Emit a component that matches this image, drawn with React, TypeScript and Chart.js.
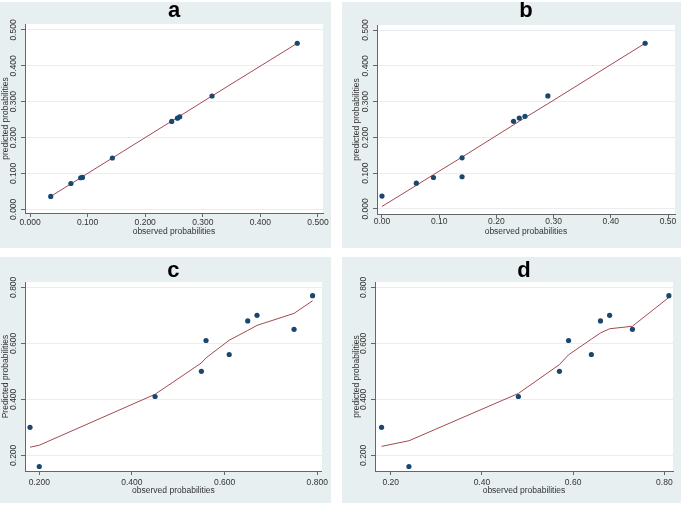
import React, { useEffect, useRef } from "react";
import { Chart, registerables } from "chart.js";

Chart.register(...registerables);

// ---------- data ----------
const aObserved = [0.036, 0.071, 0.088, 0.091, 0.143, 0.246, 0.256, 0.26, 0.316, 0.464];
const aPredicted = [0.036, 0.072, 0.088, 0.089, 0.143, 0.245, 0.254, 0.258, 0.316, 0.463];
const aFitted = [0.036, 0.071, 0.088, 0.091, 0.143, 0.246, 0.256, 0.26, 0.316, 0.463];

const bObserved = [0.0, 0.06, 0.09, 0.14, 0.14, 0.23, 0.24, 0.25, 0.29, 0.46];
const bPredicted = [0.036, 0.072, 0.088, 0.143, 0.09, 0.245, 0.254, 0.259, 0.316, 0.463];
const bFitted = [0.007, 0.066, 0.096, 0.145, 0.145, 0.235, 0.245, 0.255, 0.294, 0.463];

const cObserved = [0.18, 0.2, 0.45, 0.55, 0.56, 0.61, 0.65, 0.67, 0.75, 0.79];
const cPredicted = [0.3, 0.16, 0.41, 0.5, 0.61, 0.56, 0.68, 0.7, 0.65, 0.77];
const cFitted = [0.229, 0.236, 0.418, 0.53, 0.548, 0.611, 0.646, 0.664, 0.707, 0.752];

const dObserved = [0.18, 0.24, 0.48, 0.57, 0.59, 0.64, 0.66, 0.68, 0.73, 0.81];
const dPredicted = [0.3, 0.16, 0.41, 0.5, 0.61, 0.56, 0.68, 0.7, 0.65, 0.77];
const dFitted = [0.232, 0.252, 0.421, 0.524, 0.559, 0.615, 0.637, 0.652, 0.661, 0.764];

// ---------- ticks ----------
const abTickValues = [0, 0.1, 0.2, 0.3, 0.4, 0.5];
const abYTickLabels = ["0.000", "0.100", "0.200", "0.300", "0.400", "0.500"];
const aXTickLabels = ["0.000", "0.100", "0.200", "0.300", "0.400", "0.500"];
const bXTickLabels = ["0.00", "0.10", "0.20", "0.30", "0.40", "0.50"];
const cdTickValues = [0.2, 0.4, 0.6, 0.8];
const cdYTickLabels = ["0.200", "0.400", "0.600", "0.800"];
const cXTickLabels = ["0.200", "0.400", "0.600", "0.800"];
const dXTickLabels = ["0.20", "0.40", "0.60", "0.80"];

const panelTitles = ["a", "b", "c", "d"];
const xAxisTitle = "observed probabilities";
const yAxisTitles = ["predicted probabilities", "predicted probabilities", "Predicted probabilities", "predicted probabilities"];

// ---------- styling ----------
const FONT = "'Liberation Sans', Arial, Helvetica, sans-serif";
const PANEL_BG = "#e8eff1";
const MARKER = "#1a476f";
const LINE = "#a24a50";
const AXIS = "#666666";
const GRID = "#e8eef0";
const TEXT = "#333333";

type PanelCfg = {
  title: string;
  yTitle: string;
  obs: number[];
  pred: number[];
  fit: number[];
  xTicks: number[];
  xLabels: string[];
  yTicks: number[];
  yLabels: string[];
  xMin: number; xMax: number; yMin: number; yMax: number;
  left: number; top: number; width: number; height: number;
  chartLeft: number; chartTop: number; chartRight: number; chartBottom: number;
  titlePadTop: number;
  xLabelPad: number;
  xTitlePad: number;
};

const panels: PanelCfg[] = [
  {
    title: panelTitles[0], yTitle: yAxisTitles[0],
    obs: aObserved, pred: aPredicted, fit: aFitted,
    xTicks: abTickValues, xLabels: aXTickLabels, yTicks: abTickValues, yLabels: abYTickLabels,
    xMin: -0.0087, xMax: 0.5087, yMin: -0.0103, yMax: 0.5167,
    left: -9, top: 2, width: 340, height: 246,
    chartLeft: 34, chartTop: 22, chartRight: 332, chartBottom: 211,
    titlePadTop: 1, xLabelPad: 0.6, xTitlePad: 10.9,
  },
  {
    title: panelTitles[1], yTitle: yAxisTitles[1],
    obs: bObserved, pred: bPredicted, fit: bFitted,
    xTicks: abTickValues, xLabels: bXTickLabels, yTicks: abTickValues, yLabels: abYTickLabels,
    xMin: -0.0087, xMax: 0.5122, yMin: -0.014, yMax: 0.514,
    left: 342, top: 2, width: 339, height: 246,
    chartLeft: 35, chartTop: 23, chartRight: 333, chartBottom: 212,
    titlePadTop: 1, xLabelPad: -1.5, xTitlePad: 10.9,
  },
  {
    title: panelTitles[2], yTitle: yAxisTitles[2],
    obs: cObserved, pred: cPredicted, fit: cFitted,
    xTicks: cdTickValues, xLabels: cXTickLabels, yTicks: cdTickValues, yLabels: cdYTickLabels,
    xMin: 0.1692, xMax: 0.8101, yMin: 0.144, yMax: 0.819,
    left: -9, top: 257, width: 340, height: 246,
    chartLeft: 34, chartTop: 25, chartRight: 332, chartBottom: 214,
    titlePadTop: 6, xLabelPad: 3, xTitlePad: 7.6,
  },
  {
    title: panelTitles[3], yTitle: yAxisTitles[3],
    obs: dObserved, pred: dPredicted, fit: dFitted,
    xTicks: cdTickValues, xLabels: dXTickLabels, yTicks: cdTickValues, yLabels: cdYTickLabels,
    xMin: 0.1656, xMax: 0.819, yMin: 0.144, yMax: 0.819,
    left: 342, top: 257, width: 339, height: 246,
    chartLeft: 33, chartTop: 25, chartRight: 331, chartBottom: 214,
    titlePadTop: 6, xLabelPad: 3, xTitlePad: 7.6,
  },
];

const plotBgPlugin = {
  id: "plotBg",
  beforeDraw(chart: any) {
    const { ctx, chartArea } = chart;
    if (!chartArea) return;
    ctx.save();
    ctx.fillStyle = "#ffffff";
    ctx.fillRect(chartArea.left, chartArea.top, chartArea.right - chartArea.left, chartArea.bottom - chartArea.top);
    ctx.restore();
  },
};

function labelFor(values: number[], labels: string[], v: number): string {
  const i = values.findIndex((t) => Math.abs(t - v) < 1e-9);
  return i >= 0 ? labels[i] : "";
}

function Panel({ cfg }: { cfg: PanelCfg }) {
  const ref = useRef<HTMLCanvasElement | null>(null);
  useEffect(() => {
    if (!ref.current) return;
    const titleLine = 16;
    const chart = new Chart(ref.current, {
      type: "scatter",
      data: {
        datasets: [
          {
            label: "observed",
            data: cfg.obs.map((x, i) => ({ x, y: cfg.pred[i] })),
            backgroundColor: MARKER,
            borderColor: MARKER,
            borderWidth: 0,
            pointRadius: 2.6,
            showLine: false,
          },
          {
            label: "fitted",
            data: cfg.obs.map((x, i) => ({ x, y: cfg.fit[i] })),
            borderColor: LINE,
            backgroundColor: LINE,
            borderWidth: 1,
            pointRadius: 0,
            showLine: true,
            tension: 0,
          },
        ],
      },
      options: {
        responsive: false,
        animation: false,
        devicePixelRatio: 1,
        layout: { padding: { left: 0, top: 0, right: cfg.width - cfg.chartRight, bottom: 0 } },
        plugins: {
          legend: { display: false },
          tooltip: { enabled: false },
          title: {
            display: true,
            text: cfg.title,
            fullSize: false,
            color: "#000000",
            font: { family: FONT, size: 22, weight: "bold", lineHeight: titleLine / 22 },
            padding: { top: cfg.titlePadTop, bottom: cfg.chartTop - titleLine - cfg.titlePadTop },
          },
        },
        scales: {
          x: {
            type: "linear",
            min: cfg.xMin,
            max: cfg.xMax,
            afterBuildTicks: (scale: any) => {
              scale.ticks = cfg.xTicks.map((v) => ({ value: v }));
            },
            afterFit: (scale: any) => {
              scale.height = cfg.height - cfg.chartBottom;
            },
            grid: {
              display: true,
              drawOnChartArea: false,
              drawTicks: true,
              tickLength: 4,
              tickColor: AXIS,
              color: AXIS,
            },
            border: { display: true, color: AXIS, width: 1 },
            ticks: {
              color: TEXT,
              font: { family: FONT, size: 8.5 },
              padding: cfg.xLabelPad,
              maxRotation: 0,
              minRotation: 0,
              autoSkip: false,
              callback: (v: any) => labelFor(cfg.xTicks, cfg.xLabels, Number(v)),
            },
            title: {
              display: true,
              text: xAxisTitle,
              color: TEXT,
              font: { family: FONT, size: 8.5 },
              padding: { top: 0, bottom: cfg.xTitlePad },
            },
          },
          y: {
            type: "linear",
            min: cfg.yMin,
            max: cfg.yMax,
            afterBuildTicks: (scale: any) => {
              scale.ticks = cfg.yTicks.map((v) => ({ value: v }));
            },
            afterFit: (scale: any) => {
              scale.width = cfg.chartLeft;
            },
            grid: {
              display: true,
              drawOnChartArea: true,
              drawTicks: true,
              tickLength: 4,
              tickColor: AXIS,
              color: GRID,
              lineWidth: 1,
            },
            border: { display: true, color: AXIS, width: 1 },
            ticks: {
              color: TEXT,
              font: { family: FONT, size: 8.5 },
              padding: -3.7,
              minRotation: 90,
              maxRotation: 90,
              crossAlign: "center",
              autoSkip: false,
              callback: (v: any) => labelFor(cfg.yTicks, cfg.yLabels, Number(v)),
            },
            title: {
              display: true,
              text: cfg.yTitle,
              color: TEXT,
              font: { family: FONT, size: 8.5 },
              padding: { top: 9.5, bottom: 0 },
            },
          },
        },
      },
      plugins: [plotBgPlugin],
    } as any);
    return () => chart.destroy();
  }, [cfg]);

  return (
    <div
      style={{
        position: "absolute",
        left: cfg.left,
        top: cfg.top,
        width: cfg.width,
        height: cfg.height,
        background: PANEL_BG,
      }}
    >
      <canvas
        ref={ref}
        width={cfg.width}
        height={cfg.height}
        style={{ display: "block", width: cfg.width, height: cfg.height }}
      />
    </div>
  );
}

export default function App() {
  return (
    <div
      style={{
        position: "absolute",
        left: 0,
        top: 0,
        width: 684,
        height: 507,
        overflow: "hidden",
        background: "#ffffff",
      }}
    >
      {panels.map((p) => (
        <Panel key={p.title} cfg={p} />
      ))}
    </div>
  );
}
